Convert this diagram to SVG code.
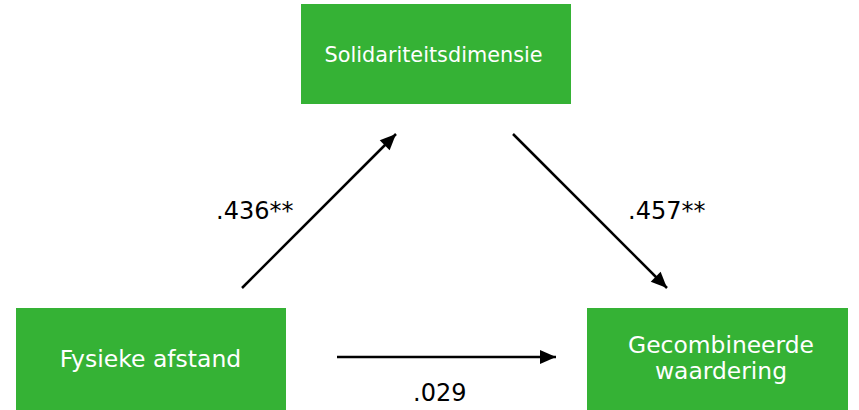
<svg xmlns="http://www.w3.org/2000/svg" width="859" height="410" viewBox="0 0 859 410">
  <defs>
    <marker id="ah" markerUnits="userSpaceOnUse" markerWidth="20" markerHeight="20" viewBox="0 0 20 20" refX="18" refY="10" orient="auto">
      <path d="M2,3 L18,10 L2,17 Z" fill="#000"/>
    </marker>
    <style>
      .box { fill: #35b235; }
      .lbl { font-family: "DejaVu Sans", Verdana, sans-serif; fill: #ffffff; text-anchor: middle; }
      .num { font-family: "DejaVu Sans", Verdana, sans-serif; fill: #000000; font-size: 24px; }
      .edge { stroke: #000; stroke-width: 2.5; fill: none; marker-end: url(#ah); }
    </style>
  </defs>
  <rect width="859" height="410" fill="#ffffff"/>
  <g id="node-solidariteit">
    <rect class="box" x="301" y="4" width="270" height="100"/>
    <text class="lbl" x="433.5" y="61.5" font-size="20.8">Solidariteitsdimensie</text>
  </g>
  <g id="node-fysieke">
    <rect class="box" x="16" y="308" width="270" height="102"/>
    <text class="lbl" x="150.5" y="366.5" font-size="23.5">Fysieke afstand</text>
  </g>
  <g id="node-gecombineerde">
    <rect class="box" x="587" y="308" width="261" height="102"/>
    <text class="lbl" x="721" y="352.5" font-size="23.4">Gecombineerde</text>
    <text class="lbl" x="721" y="378.5" font-size="23.4">waardering</text>
  </g>
  <g id="connectors">
    <line class="edge" x1="242" y1="288" x2="396" y2="134"/>
    <line class="edge" x1="513" y1="134" x2="667" y2="288"/>
    <line class="edge" x1="337" y1="357" x2="556" y2="357"/>
    <text class="num" x="216" y="218.5">.436**</text>
    <text class="num" x="628" y="218.5">.457**</text>
    <text class="num" x="413" y="401" font-size="22">.029</text>
  </g>
</svg>
